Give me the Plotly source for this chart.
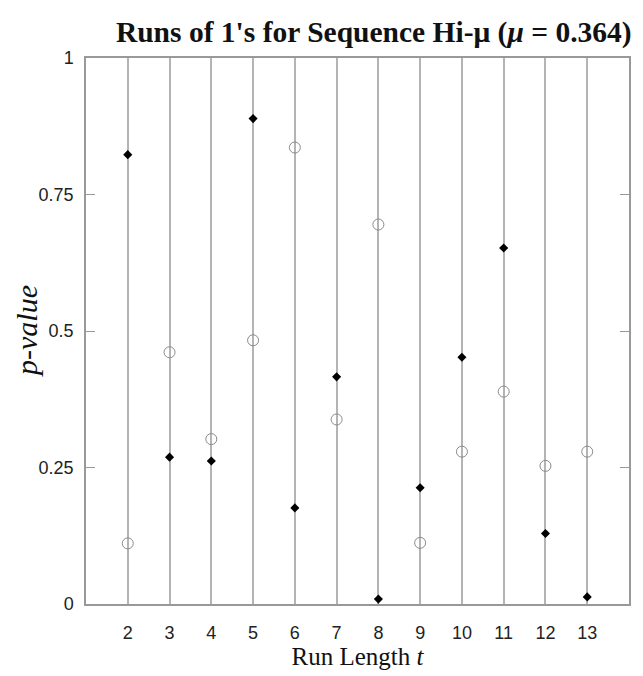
import plotly.graph_objects as go

run_length = [2, 3, 4, 5, 6, 7, 8, 9, 10, 11, 12, 13]
p_filled = [0.823, 0.269, 0.262, 0.889, 0.176, 0.416, 0.009, 0.213, 0.452, 0.652, 0.129, 0.013]
p_open = [0.111, 0.461, 0.302, 0.483, 0.836, 0.338, 0.695, 0.112, 0.279, 0.389, 0.253, 0.279]
y_ticks = [0, 0.25, 0.5, 0.75, 1]
y_tick_labels = ["0", "0.25", "0.5", "0.75", "1"]

fig = go.Figure()
fig.add_trace(go.Scatter(
    x=run_length, y=p_open, mode="markers",
    marker=dict(symbol="circle-open", size=11, color="#8a8a8a", line=dict(width=1)),
    showlegend=False))
fig.add_trace(go.Scatter(
    x=run_length, y=p_filled, mode="markers",
    marker=dict(symbol="diamond", size=7, color="black"),
    showlegend=False))

fig.update_layout(
    width=635, height=668,
    margin=dict(l=78, r=14, t=50, b=72),
    paper_bgcolor="white", plot_bgcolor="white",
    title=dict(text="Runs of 1's for Sequence Hi-μ (<i>μ</i> = 0.364)",
               x=0.576, xanchor="center", y=0.964, yanchor="middle",
               font=dict(family="Liberation Serif", size=29.5, color="#111111", weight="bold")),
    font=dict(family="Liberation Sans", size=18, color="#222222"),
    annotations=[dict(
        text="<i>p-value</i>", xref="paper", yref="paper", x=0, y=0.5,
        xanchor="center", yanchor="middle", xshift=-60, textangle=-90, showarrow=False,
        font=dict(family="Liberation Serif", size=30, color="#111111"))],
)
fig.update_xaxes(
    range=[1, 14], tickvals=run_length, ticktext=[str(v) for v in run_length],
    showgrid=True, gridcolor="#b4b4b4", gridwidth=1.5,
    showline=True, linecolor="#999999", linewidth=1.5, mirror=True,
    ticks="", zeroline=False, ticklabelstandoff=12, automargin=False,
    title=dict(text="Run Length <i>t</i>", font=dict(family="Liberation Serif", size=25, color="#111111"),
               standoff=0),
    tickfont=dict(size=18),
)
fig.update_yaxes(
    range=[0, 1], tickvals=y_ticks, ticktext=y_tick_labels,
    showgrid=False, zeroline=False, automargin=False,
    showline=True, linecolor="#999999", linewidth=1.5, mirror="ticks",
    ticks="inside", ticklen=9, tickcolor="#999999", tickwidth=1,
    ticklabelstandoff=7,
    tickfont=dict(size=18),
)

fig.write_html("out.html")
